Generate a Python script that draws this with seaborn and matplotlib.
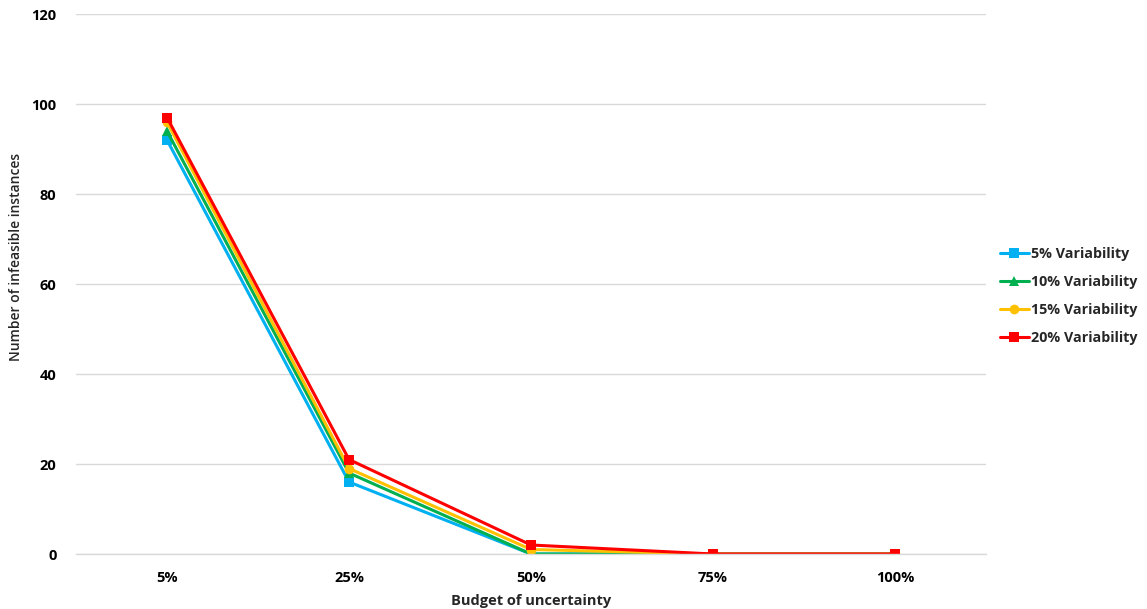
import matplotlib
matplotlib.use("Agg")
import matplotlib.pyplot as plt
import seaborn as sns
import pandas as pd

budgets = ["5%", "25%", "50%", "75%", "100%"]
series_names = ["5% Variability", "10% Variability", "15% Variability", "20% Variability"]
var5 = [92, 16, 0, 0, 0]
var10 = [94, 18, 0, 0, 0]
var15 = [96, 19, 1, 0, 0]
var20 = [97, 21, 2, 0, 0]
y_ticks = [0, 20, 40, 60, 80, 100, 120]

colors = ["#00B0F0", "#00B050", "#FFC000", "#FF0000"]
marker_shapes = ["s", "^", "o", "s"]

rows = []
for name, vals in zip(series_names, [var5, var10, var15, var20]):
    for i, (b, v) in enumerate(zip(budgets, vals)):
        rows.append({"pos": i, "budget": b, "count": v, "series": name})
df = pd.DataFrame(rows)

sns.set_theme(style="white")
plt.rcParams["font.family"] = ["Open Sans", "DejaVu Sans"]

fig = plt.figure(figsize=(11.47, 6.09), dpi=100)
ax = fig.add_axes([76 / 1147, 55 / 609, 910 / 1147, 540 / 609])

sns.lineplot(
    data=df, x="pos", y="count", hue="series", style="series",
    hue_order=series_names, style_order=series_names,
    palette=dict(zip(series_names, colors)),
    markers=dict(zip(series_names, marker_shapes)),
    dashes=False, linewidth=2.2, markersize=7, markeredgewidth=0,
    ax=ax, legend=True,
)

ax.set_xlim(-0.5, len(budgets) - 0.5)
ax.set_ylim(0, 120)
ax.set_yticks(y_ticks)
ax.set_xticks(range(len(budgets)))
ax.set_xticklabels(budgets)
ax.yaxis.grid(True, color="#D9D9D9", linewidth=1)
ax.set_axisbelow(True)
for s in ["top", "right", "left"]:
    ax.spines[s].set_visible(False)
ax.spines["bottom"].set_color("#D9D9D9")
ax.spines["bottom"].set_linewidth(1)
ax.tick_params(axis="both", length=0, labelsize=10.5, colors="#000000")
ax.tick_params(axis="y", pad=14)
ax.tick_params(axis="x", pad=12)
for lbl in ax.get_xticklabels() + ax.get_yticklabels():
    lbl.set_fontweight("bold")

ax.set_xlabel("Budget of uncertainty", fontsize=10.5, fontweight="bold")
ax.xaxis.set_label_coords(0.5, -0.075)
ax.set_ylabel("Number of infeasible instances", fontsize=10, fontweight="semibold")
ax.yaxis.set_label_coords(-0.058, 0.55)

handles, labels = ax.get_legend_handles_labels()
ax.legend_.remove()
leg = fig.legend(
    handles, labels, loc="center left", bbox_to_anchor=(1000 / 1147, 1 - 296 / 609),
    frameon=False, fontsize=10.3, handlelength=2.0, handletextpad=0.2, labelspacing=0.98,
    borderpad=0, borderaxespad=0,
)
for t in leg.get_texts():
    t.set_fontweight("bold")

fig.savefig("out.png", dpi=100)
